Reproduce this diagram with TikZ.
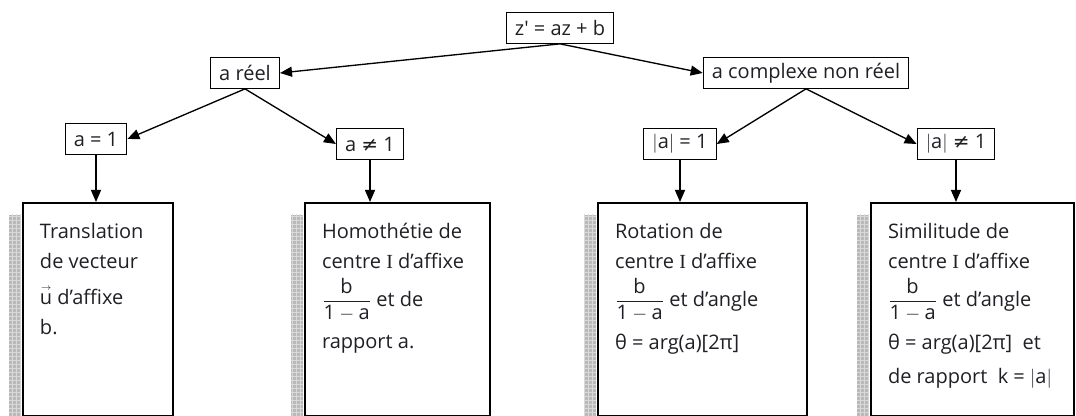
\documentclass[tikz,border=0pt]{standalone}
\usepackage{amsmath}
\usepackage{fontspec}
\setmainfont{Open Sans}
\newfontfamily\serifI{Liberation Serif}
\newfontfamily\symb{DejaVu Sans}
\usepackage{tikz}
\usetikzlibrary{arrows.meta,calc,patterns}
\definecolor{inkgray}{rgb}{0.12,0.12,0.15}
\tikzset{
  >={Triangle[length=9pt,width=7.5pt]},
  cond/.style={rectangle,draw,line width=0.8pt,minimum height=23pt,inner xsep=6.5pt,inner ysep=2pt,text=inkgray},
  transfo/.style={rectangle,draw,line width=1.5pt,anchor=north west,inner xsep=12.75pt,inner ysep=15pt,text=inkgray},
  edge/.style={->,line width=1pt},
  strip/.style={fill=gray!55}
}
\newcommand{\frb}{$\dfrac{\text{b}}{\text{1}-\text{a}}$}
\newcommand{\absa}{$\lvert\text{a}\rvert$}
\newcommand{\vecu}{$\overset{\scriptscriptstyle\rightarrow}{\text{u}}$}
\newcommand{\panel}[2]{\parbox[t][129.75pt][t]{#1}{\raggedright #2}}

\begin{document}
\begin{tikzpicture}[x=0.75pt,y=-0.75pt,font=\fontsize{15}{22.5}\selectfont]
  \clip (0,0) rectangle (1076,416);

  % Root and the two cases on a
  \node[cond] (root) at (560,28) {z\textquotesingle\ = az + b};
  \node[cond] (reel) at (245,73) {a réel};
  \node[cond] (cplx) at (806,73) {a complexe non réel};
  \draw[edge] (root.south) -- (reel.east);
  \draw[edge] (root.south) -- (cplx.west);

  % Sub-cases
  \node[cond] (un) at (96,139) {a = 1};
  \node[cond] (nonun) at (370,144) {a {\symb ≠} 1};
  \node[cond] (modun) at (680,144) {\absa\ = 1};
  \node[cond] (modnonun) at (956,144) {\absa\ {\symb ≠} 1};
  \draw[edge] (reel.south) -- (un.east);
  \draw[edge] (reel.south) -- (nonun.west);
  \draw[edge] (cplx.south) -- (modun.east);
  \draw[edge] (cplx.south) -- (modnonun.west);

  % Transformations
  \node[transfo] (transl) at (22,202) {\panel{87pt}{Translation\\ de vecteur\\[5pt] \vecu\ d’affixe\\ b.}};
  \node[transfo] (homo) at (304,202) {\panel{113.25pt}{Homothétie de\\ centre {\serifI I} d’affixe\\[6pt] \frb\ et de\\[9pt] rapport a.}};
  \node[transfo] (rota) at (597,202) {\panel{131.25pt}{Rotation de\\ centre {\serifI I} d’affixe\\[6pt] \frb\ et d’angle\\[9pt] θ = arg(a)[2π]}};
  \node[transfo] (simil) at (870,202) {\panel{126.75pt}{Similitude de\\ centre {\serifI I} d’affixe\\[6pt] \frb\ et d’angle\\[9pt] θ = arg(a)[2π]\ \ et\\[3pt] de rapport\ \ k = \absa}};

  % Shaded strips
  \foreach \b in {transl,homo,rota,simil}{
    \fill[strip] ([shift={(-13,13)}]\b.north west) rectangle ([xshift=-0.75pt]\b.south west);
    \fill[pattern=grid,pattern color=gray!30] ([shift={(-13,13)}]\b.north west) rectangle ([xshift=-0.75pt]\b.south west);
  }

  \draw[edge] (un) -- (un |- transl.north);
  \draw[edge] (nonun) -- (nonun |- homo.north);
  \draw[edge] (modun) -- (modun |- rota.north);
  \draw[edge] (modnonun) -- (modnonun |- simil.north);
\end{tikzpicture}
\end{document}
